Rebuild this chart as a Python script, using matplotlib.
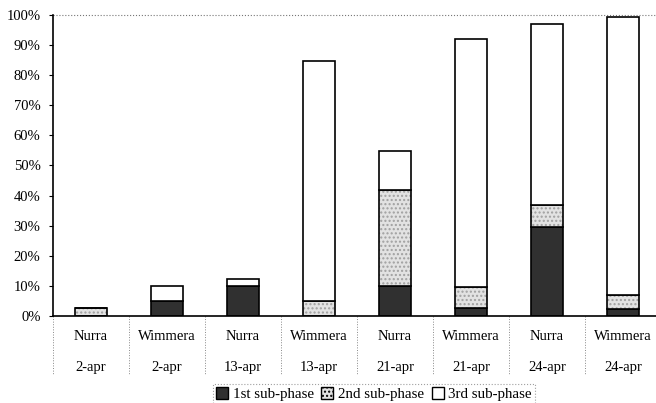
import numpy as np
import matplotlib.pyplot as plt
from matplotlib.patches import Patch
from matplotlib.transforms import blended_transform_factory

plt.rcParams['font.family'] = ['Liberation Serif', 'DejaVu Serif']

# data (percent)
sites = ['Nurra', 'Wimmera', 'Nurra', 'Wimmera', 'Nurra', 'Wimmera', 'Nurra', 'Wimmera']
dates = ['2-apr', '2-apr', '13-apr', '13-apr', '21-apr', '21-apr', '24-apr', '24-apr']
sub1 = [0.0, 5.0, 10.0, 0.0, 10.0, 2.5, 29.5, 2.3]
sub2 = [2.5, 0.0, 0.0, 5.0, 32.0, 7.2, 7.5, 4.7]
sub3 = [0.0, 5.0, 2.4, 79.8, 12.8, 82.4, 60.0, 92.3]
series_names = ['1st sub-phase', '2nd sub-phase', '3rd sub-phase']

fig = plt.figure(figsize=(6.56, 4.03), dpi=100)
ax = fig.add_axes([53/656, 87/403, 608/656, 301/403])

x = np.arange(len(sites))
s1 = np.array(sub1)
s2 = np.array(sub2)
s3 = np.array(sub3)
w = 0.41
ax.bar(x, s1, w, color='#303030', edgecolor='black', linewidth=1.2)
# 2nd sub-phase: light stipple, then black outline on top
ax.bar(x, s2, w, bottom=s1, color='#e2e2e2', edgecolor='#a0a0a0', linewidth=0, hatch='....')
ax.bar(x, s2, w, bottom=s1, fill=False, edgecolor='black', linewidth=1.2)
ax.bar(x, s3, w, bottom=s1 + s2, color='white', edgecolor='black', linewidth=1.2)

ax.set_xlim(-0.5, len(sites) - 0.5)
ax.set_ylim(0, 100)
ax.set_yticks(np.arange(0, 101, 10))
ax.set_yticklabels([f'{v}%' for v in range(0, 101, 10)], fontsize=10.5)
ax.tick_params(axis='y', length=3, width=0.8, pad=6)
ax.set_xticks([])

ax.spines['top'].set_visible(False)
ax.spines['right'].set_visible(False)
ax.spines['left'].set_linewidth(1.2)
ax.spines['bottom'].set_linewidth(1.2)
ax.axhline(100, color='#777777', lw=0.8, ls=':', clip_on=False)

# two-row category labels with dotted separators
trans = blended_transform_factory(ax.transData, ax.transAxes)
for i in range(len(sites)):
    ax.text(i, -21/301, sites[i], transform=trans, ha='center', va='center', fontsize=10.5)
    ax.text(i, -52/301, dates[i], transform=trans, ha='center', va='center', fontsize=10.5)
for b in np.arange(-0.5, len(sites), 1.0):
    ax.plot([b, b], [0, -59/301], transform=trans, color='#888888', lw=0.7, ls=':', clip_on=False)

handles = [Patch(facecolor='#303030', edgecolor='black'),
           Patch(facecolor='#e2e2e2', edgecolor='black', hatch='....'),
           Patch(facecolor='white', edgecolor='black')]
leg = fig.legend(handles, series_names, loc='lower center', bbox_to_anchor=(374/656, -0.005),
                 ncol=3, fontsize=10.8, frameon=True, fancybox=False,
                 handlelength=0.8, handleheight=0.8, handletextpad=0.3,
                 columnspacing=0.5, borderpad=0.25, borderaxespad=0.0)
leg.get_frame().set_linestyle(':')
leg.get_frame().set_edgecolor('#888888')
leg.get_frame().set_linewidth(0.8)

fig.savefig('out.png', dpi=100)
